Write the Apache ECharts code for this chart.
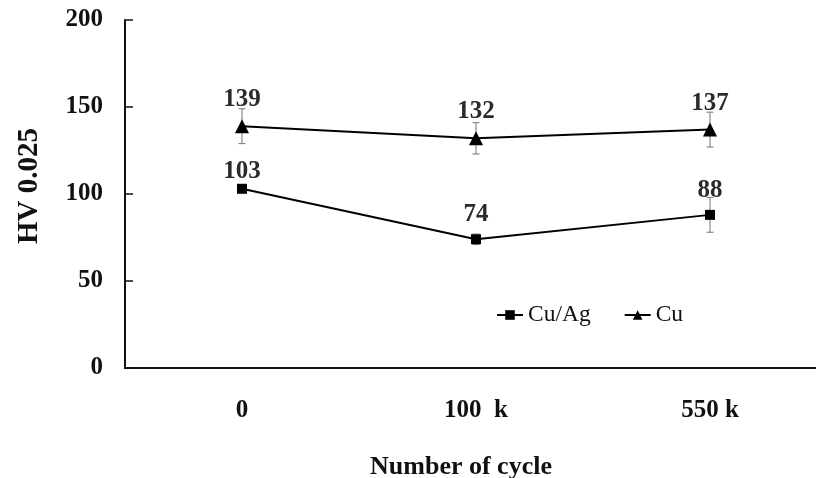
<!DOCTYPE html>
<html>
<head>
<meta charset="utf-8">
<script src="https://cdn.jsdelivr.net/npm/echarts@6/dist/echarts.min.js"></script>
<style>
  html, body { margin: 0; padding: 0; background: #fff; }
  #chart { width: 816px; height: 478px; }
</style>
</head>
<body>
<div id="chart"></div>
<script>
// Vickers microhardness versus fatigue cycles
const categories = ['0', '100  k', '550 k'];
const cuAgValues = [103, 74, 88];
const cuValues = [139, 132, 137];
const cuAgErrors = [2, 3, 10];
const cuErrors = [10, 9, 10];
const yTicks = { min: 0, max: 200, interval: 50 };

const serifFont = '"Liberation Serif", "Times New Roman", serif';

function errorSeries(values, errors) {
  return {
    type: 'custom',
    z: 1,
    silent: true,
    data: values.map((v, i) => [i, v - errors[i], v + errors[i]]),
    renderItem: function (params, api) {
      const lo = api.coord([api.value(0), api.value(1)]);
      const hi = api.coord([api.value(0), api.value(2)]);
      const cap = 3.5;
      const style = { stroke: '#8a8a8a', lineWidth: 1.2 };
      return {
        type: 'group',
        children: [
          { type: 'line', shape: { x1: lo[0], y1: lo[1], x2: hi[0], y2: hi[1] }, style: style },
          { type: 'line', shape: { x1: lo[0] - cap, y1: lo[1], x2: lo[0] + cap, y2: lo[1] }, style: style },
          { type: 'line', shape: { x1: hi[0] - cap, y1: hi[1], x2: hi[0] + cap, y2: hi[1] }, style: style }
        ]
      };
    }
  };
}

const valueLabel = {
  show: true,
  position: 'top',
  distance: 7,
  color: '#2b2b2b',
  fontFamily: serifFont,
  fontWeight: 'bold',
  fontSize: 25
};

// the first Cu/Ag label sits closer to its marker, below the Cu error bar
const cuAgData = cuAgValues.map((v, i) =>
  i === 0 ? { value: v, label: { distance: 0 } } : v);

const chart = echarts.init(document.getElementById('chart'), null, { renderer: 'canvas' });
chart.setOption({
  animation: false,
  backgroundColor: '#ffffff',
  grid: { left: 125, right: -11, top: 20, bottom: 110, containLabel: false, outerBoundsMode: 'none' },
  legend: {
    left: 491,
    top: 298,
    itemWidth: 26,
    itemHeight: 12,
    itemGap: 33,
    textStyle: { fontFamily: serifFont, fontSize: 23.5, color: '#111' },
    data: ['Cu/Ag', 'Cu']
  },
  xAxis: {
    type: 'category',
    data: categories,
    boundaryGap: true,
    name: 'Number of cycle',
    nameLocation: 'middle',
    nameGap: 86,
    nameTextStyle: { fontFamily: serifFont, fontWeight: 'bold', fontSize: 26, color: '#111', padding: [0, 30, 0, 0] },
    axisLine: { lineStyle: { color: '#111', width: 2 } },
    axisTick: { inside: true, alignWithLabel: true, length: 8, lineStyle: { color: '#111', width: 1.5 } },
    axisLabel: { margin: 30, fontFamily: serifFont, fontWeight: 'bold', fontSize: 25, color: '#111' },
    splitLine: { show: false }
  },
  yAxis: {
    type: 'value',
    min: yTicks.min,
    max: yTicks.max,
    interval: yTicks.interval,
    name: 'HV 0.025',
    nameLocation: 'middle',
    nameGap: 81,
    nameRotate: 90,
    nameTextStyle: { fontFamily: serifFont, fontWeight: 'bold', fontSize: 29, color: '#111', padding: [0, 0, 0, 16] },
    axisLine: { show: true, lineStyle: { color: '#111', width: 2 } },
    axisTick: { show: true, inside: true, length: 8, lineStyle: { color: '#111', width: 1.5 } },
    axisLabel: { margin: 22, fontFamily: serifFont, fontWeight: 'bold', fontSize: 25, color: '#111' },
    splitLine: { show: false }
  },
  series: [
    errorSeries(cuAgValues, cuAgErrors),
    errorSeries(cuValues, cuErrors),
    {
      name: 'Cu/Ag',
      type: 'line',
      z: 3,
      data: cuAgData,
      symbol: 'rect',
      symbolSize: 10,
      itemStyle: { color: '#000' },
      lineStyle: { color: '#000', width: 2 },
      label: valueLabel
    },
    {
      name: 'Cu',
      type: 'line',
      z: 3,
      data: cuValues,
      symbol: 'triangle',
      symbolSize: 14,
      itemStyle: { color: '#000' },
      lineStyle: { color: '#000', width: 2 },
      label: valueLabel
    }
  ]
});
</script>
</body>
</html>
